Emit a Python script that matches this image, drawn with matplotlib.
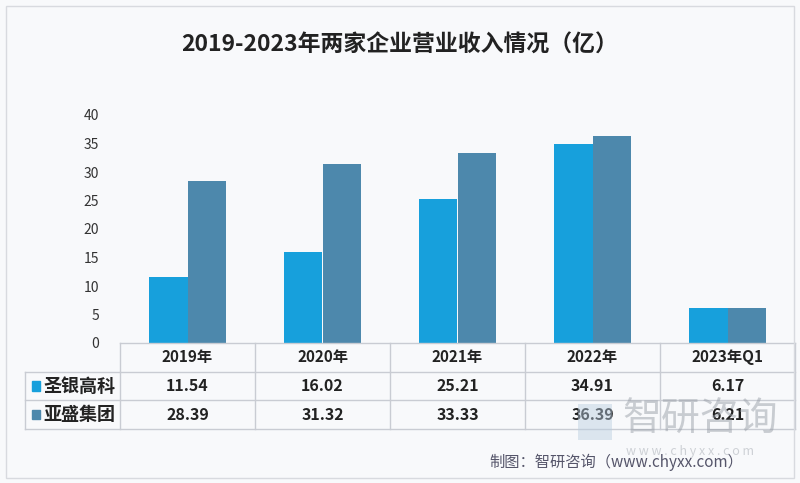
import matplotlib
matplotlib.use("Agg")
import matplotlib.pyplot as plt
from matplotlib.transforms import blended_transform_factory
from matplotlib.patches import Rectangle
import numpy as np

plt.rcParams['font.family'] = ['Noto Sans CJK SC', 'DejaVu Sans']

# data
categories = ["2019年", "2020年", "2021年", "2022年", "2023年Q1"]
series_names = ["圣银高科", "亚盛集团"]
shengyin = [11.54, 16.02, 25.21, 34.91, 6.17]
yasheng = [28.39, 31.32, 33.33, 36.39, 6.21]
colors = ["#17a0dc", "#4d88ac"]

fig = plt.figure(figsize=(8, 4.83), dpi=100)
fig.patch.set_facecolor("#f8f9fb")
fig.add_artist(Rectangle((6 / 800, 5 / 483), 788 / 800, 472 / 483, transform=fig.transFigure,
                         fill=False, ec="#d8dadf", lw=1))

ax = fig.add_axes([120 / 800, (483 - 343) / 483, 675 / 800, 228 / 483])
ax.set_facecolor("none")

x = np.arange(len(categories))
w = 0.285
ax.bar(x - w / 2, shengyin, w, color=colors[0], zorder=2)
ax.bar(x + w / 2, yasheng, w, color=colors[1], zorder=2)

ax.set_xlim(-0.5, len(categories) - 0.5)
ax.set_ylim(0, 40)
ax.set_yticks(range(0, 41, 5))
ax.tick_params(axis="y", length=0, labelsize=10, labelcolor="#333333", pad=15)
ax.set_xticks([])
for s in ax.spines.values():
    s.set_visible(False)

# table below the axes
tr = blended_transform_factory(ax.transData, ax.transAxes)
row_h = 28.7 / 228
line_c = "#c9ccd3"
lbl_left = -0.5 - 95 / 135
ax.plot([-0.5, len(categories) - 0.5], [0, 0], color=line_c, lw=1, transform=tr, clip_on=False)
for r in (1, 2, 3):
    ax.plot([lbl_left, len(categories) - 0.5], [-r * row_h] * 2, color=line_c, lw=1,
            transform=tr, clip_on=False)
for b in np.arange(-0.5, len(categories), 1.0):
    ax.plot([b, b], [0, -3 * row_h], color=line_c, lw=1, transform=tr, clip_on=False)
ax.plot([lbl_left, lbl_left], [-row_h, -3 * row_h], color=line_c, lw=1, transform=tr, clip_on=False)

# watermark (drawn first so the table text sits on top)
fig.add_artist(Rectangle((578 / 800, 1 - 440 / 483), 34 / 800, 36 / 483, transform=fig.transFigure,
                         color="#b8cde0", alpha=0.45, lw=0))
fig.text(700 / 800, 1 - 420 / 483, "智研咨询", ha="center", va="center", fontsize=28,
         color="#9aa0a8", alpha=0.5)
fig.text(690 / 800, 1 - 451 / 483, "w w w . c h y x x . c o m", ha="center", va="center",
         fontsize=9, color="#9aa0a8", alpha=0.45)

for i, c in enumerate(categories):
    ax.text(i, -0.5 * row_h, c, transform=tr, ha="center", va="center",
            fontsize=11, fontweight="bold", color="#222222")
    ax.text(i, -1.5 * row_h, f"{shengyin[i]:.2f}", transform=tr, ha="center", va="center",
            fontsize=11.5, fontweight="bold", color="#222222")
    ax.text(i, -2.5 * row_h, f"{yasheng[i]:.2f}", transform=tr, ha="center", va="center",
            fontsize=11.5, fontweight="bold", color="#222222")

for r, (name, col) in enumerate(zip(series_names, colors)):
    yc = -(1.5 + r) * row_h
    ax.add_patch(Rectangle((lbl_left + 7 / 135, yc - 0.02), 8 / 135, 0.04, transform=tr,
                           color=col, clip_on=False))
    ax.text(lbl_left + 18 / 135, yc, name, transform=tr, ha="left", va="center",
            fontsize=13, fontweight="bold", color="#222222")

fig.text(0.5, 1 - 45 / 483, "2019-2023年两家企业营业收入情况（亿）", ha="center", va="center",
         fontsize=16.5, fontweight="bold", color="#222222")

fig.text(616 / 800, 1 - 462 / 483, "制图：智研咨询（www.chyxx.com）", ha="center", va="center",
         fontsize=11, color="#55556a")

fig.savefig("out.png", dpi=100, facecolor=fig.get_facecolor())
